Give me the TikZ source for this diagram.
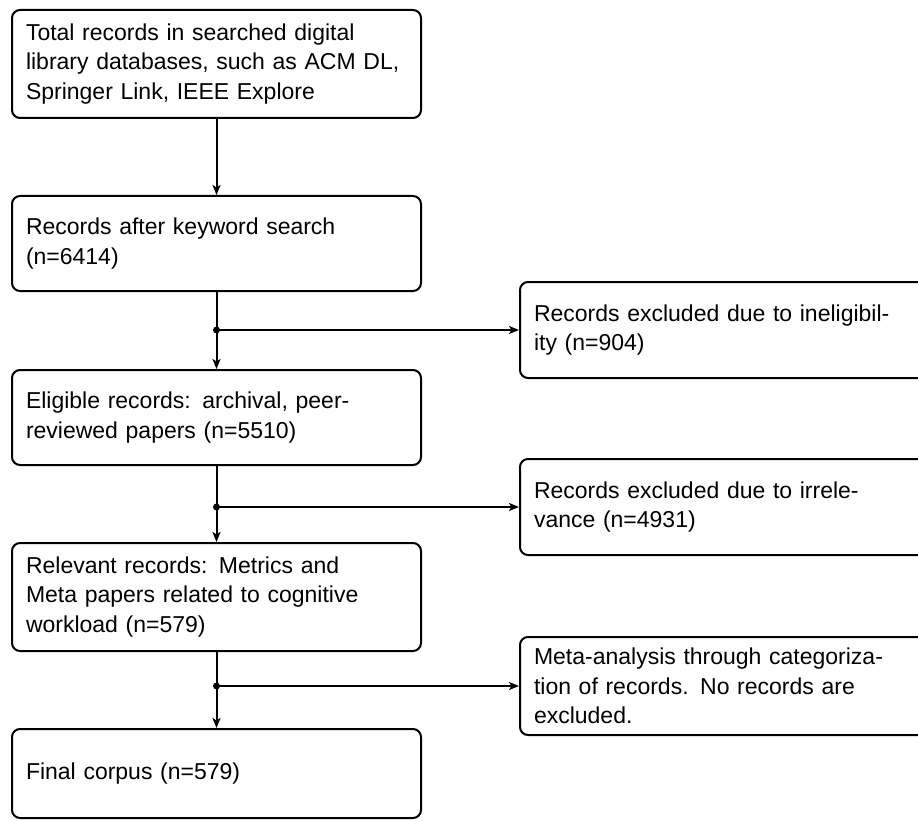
\documentclass[tikz,border=0pt]{standalone}
\usepackage{fontspec}
\setmainfont{Liberation Sans}
\usetikzlibrary{arrows.meta}
\tikzset{
  box/.style={draw=black, line width=2pt, rounded corners=8pt, minimum width=409pt,
    text width=381pt, inner xsep=14pt, inner ysep=0pt, align=left,
    font=\fontsize{23}{29.5}\selectfont},
  arr/.style={line width=2pt, -{Stealth[length=10pt,width=8pt,inset=2.5pt]}},
  dot/.style={circle, fill=black, inner sep=0pt, minimum size=7pt}
}
\begin{document}
\begin{tikzpicture}[x=1pt,y=-1pt]
\useasboundingbox (0,0) rectangle (918,821);
\clip (0,0) rectangle (918,821);
\node[box, minimum height=108pt] (b1) at (216.5,64) {Total records in searched digital\\library databases, such as ACM DL,\\Springer Link, IEEE Explore};
\node[box, minimum height=95pt] (b2) at (216.5,243.5) {Records after keyword search\\(n=6414)};
\node[box, minimum height=95pt] (b3) at (216.5,417.5) {Eligible records: archival, peer-\\reviewed papers (n=5510)};
\node[box, minimum height=108pt] (b4) at (216.5,597) {Relevant records: Metrics and\\Meta papers related to cognitive\\workload (n=579)};
\node[box, minimum height=89pt] (b5) at (216.5,773.5) {Final corpus (n=579)};
\node[box, minimum height=96pt] (r1) at (724.5,330) {Records excluded due to ineligibil-\\ity (n=904)};
\node[box, minimum height=96pt] (r2) at (724.5,507) {Records excluded due to irrele-\\vance (n=4931)};
\node[box, minimum height=98pt] (r3) at (724.5,686) {Meta-analysis through categoriza-\\tion of records. No records are\\excluded.};
\node[dot] (j1) at (216.5,330) {};
\node[dot] (j2) at (216.5,507) {};
\node[dot] (j3) at (216.5,686) {};
\draw[arr] (b1) -- (b2);
\draw[arr] (b2) -- (b3);
\draw[arr] (b3) -- (b4);
\draw[arr] (b4) -- (b5);
\draw[arr] (j1.center) -- (r1);
\draw[arr] (j2.center) -- (r2);
\draw[arr] (j3.center) -- (r3);
\end{tikzpicture}
\end{document}
